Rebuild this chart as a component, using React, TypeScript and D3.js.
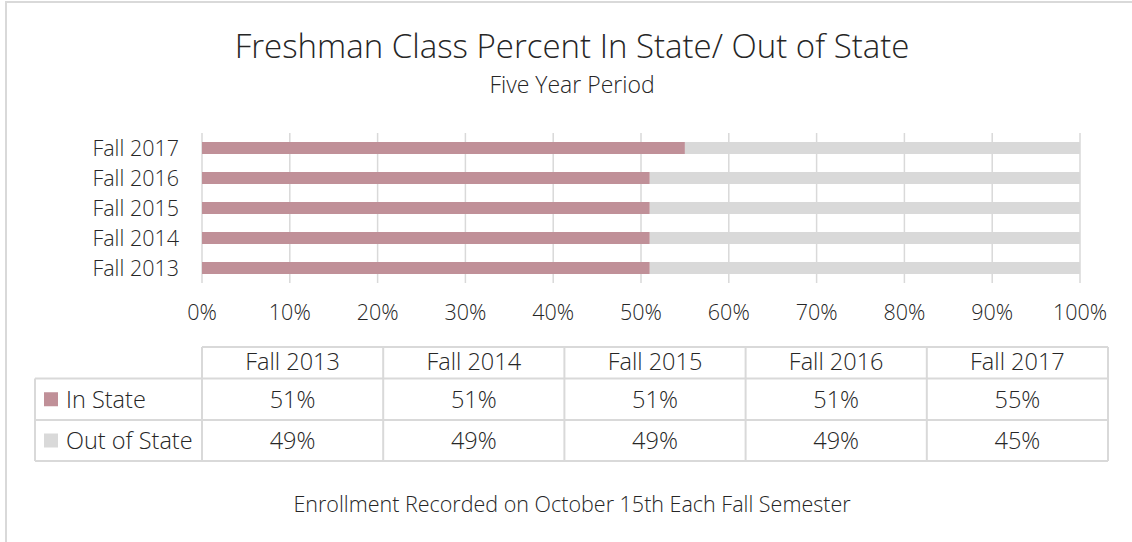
import React from "react";
import * as d3 from "d3";

const categories = ["Fall 2013", "Fall 2014", "Fall 2015", "Fall 2016", "Fall 2017"];
const inState = [51, 51, 51, 51, 55];
const outOfState = [49, 49, 49, 49, 45];
const seriesNames = ["In State", "Out of State"];
const colors = ["#c09098", "#d9d9d9"];
const ticks = [0, 0.1, 0.2, 0.3, 0.4, 0.5, 0.6, 0.7, 0.8, 0.9, 1];

const W = 1132;
const H = 542;
const font = "'Open Sans', sans-serif";
const textColor = "#262626";
const lineColor = "#d9d9d9";

const App = () => {
  const rows = categories.map((c, i) => ({
    cat: c,
    in: inState[i] / (inState[i] + outOfState[i]),
    out: outOfState[i] / (inState[i] + outOfState[i]),
  }));
  const stacked = d3.stack<any>().keys(["in", "out"])(rows);

  const x = d3.scaleLinear().domain([0, 1]).range([202, 1080]);
  const y = d3
    .scaleBand()
    .domain(categories.slice().reverse())
    .range([133, 283])
    .paddingInner(0.6)
    .paddingOuter(0.3);
  const pct = d3.format(".0%");

  // data table layout
  const col = d3.scaleBand().domain(categories).range([202, 1108]);
  const rowTop = [347, 378.5, 420, 461];
  const tableValues = [inState, outOfState];

  return (
    <svg
      width={W}
      height={H}
      style={{ position: "absolute", left: 0, top: 0, background: "#fff" }}
      fontFamily={font}
      fontWeight={300}
      fill={textColor}
    >
      <rect x={6} y={2} width={W + 20} height={H + 20} fill="#fff" stroke={lineColor} strokeWidth={2} />

      <text x={572} y={58} textAnchor="middle" fontSize={33}>
        Freshman Class Percent In State/ Out of State
      </text>
      <text x={572} y={93} textAnchor="middle" fontSize={23}>
        Five Year Period
      </text>

      {ticks.map(t => (
        <line key={"g" + t} x1={x(t)} x2={x(t)} y1={133} y2={283} stroke={lineColor} strokeWidth={1.5} />
      ))}

      {stacked.map((s, si) => (
        <g key={s.key} fill={colors[si]}>
          {s.map(d => (
            <rect
              key={d.data.cat}
              x={x(d[0])}
              y={y(d.data.cat)}
              width={x(d[1]) - x(d[0])}
              height={y.bandwidth()}
            />
          ))}
        </g>
      ))}

      {categories.map(c => (
        <text key={"l" + c} x={179} y={(y(c) as number) + y.bandwidth() / 2} dy="0.36em" textAnchor="end" fontSize={21.5}>
          {c}
        </text>
      ))}

      {ticks.map(t => (
        <text key={"t" + t} x={x(t)} y={320} textAnchor="middle" fontSize={21.5}>
          {pct(t)}
        </text>
      ))}

      {/* data table */}
      <g stroke={lineColor} strokeWidth={2} fill="none">
        <line x1={202} x2={1108} y1={rowTop[0]} y2={rowTop[0]} />
        {rowTop.slice(1).map(r => (
          <line key={"r" + r} x1={35} x2={1108} y1={r} y2={r} />
        ))}
        <line x1={35} x2={35} y1={rowTop[1]} y2={rowTop[3]} />
        {categories.map(c => (
          <line key={"c" + c} x1={col(c)} x2={col(c)} y1={rowTop[0]} y2={rowTop[3]} />
        ))}
        <line x1={1108} x2={1108} y1={rowTop[0]} y2={rowTop[3]} />
      </g>

      {categories.map(c => (
        <text key={"h" + c} x={(col(c) as number) + col.bandwidth() / 2} y={370} textAnchor="middle" fontSize={23.5}>
          {c}
        </text>
      ))}

      {tableValues.map((vals, ri) => (
        <g key={"row" + ri}>
          <rect x={44} y={(rowTop[ri + 1] + rowTop[ri + 2]) / 2 - 7} width={14} height={14} fill={colors[ri]} />
          <text x={66} y={(rowTop[ri + 1] + rowTop[ri + 2]) / 2} dy="0.36em" fontSize={23.5}>
            {seriesNames[ri]}
          </text>
          {vals.map((v, ci) => (
            <text
              key={"v" + ci}
              x={(col(categories[ci]) as number) + col.bandwidth() / 2}
              y={(rowTop[ri + 1] + rowTop[ri + 2]) / 2}
              dy="0.36em"
              textAnchor="middle"
              fontSize={23.5}
            >
              {v + "%"}
            </text>
          ))}
        </g>
      ))}

      <text x={572} y={512} textAnchor="middle" fontSize={21.5}>
        Enrollment Recorded on October 15th Each Fall Semester
      </text>
    </svg>
  );
};

export default App;
